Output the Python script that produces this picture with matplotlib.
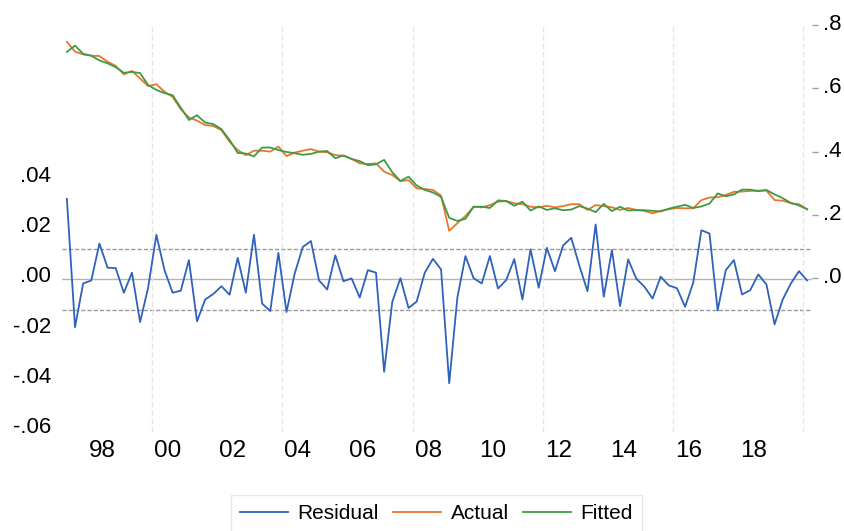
# -*- coding: utf-8 -*-
import numpy as np
import matplotlib
matplotlib.use("Agg")
import matplotlib.pyplot as plt
import matplotlib.transforms as mtrans

plt.rcParams["font.family"] = ["Liberation Sans", "DejaVu Sans"]

# data (quarterly, 1997Q1 - 2019Q4) --------------------------------------------
residual = [
    0.0321, -0.0190, -0.0016, -0.0004, 0.0143, 0.0047, 0.0045, -0.0053, 0.0027, -0.0170,
    -0.0031, 0.0178, 0.0037, -0.0053, -0.0045, 0.0077, -0.0167, -0.0080, -0.0058, -0.0027,
    -0.0061, 0.0086, -0.0053, 0.0178, -0.0096, -0.0126, 0.0106, -0.0130, 0.0023, 0.0129,
    0.0153, -0.0004, -0.0040, 0.0096, -0.0007, 0.0004, -0.0072, 0.0037, 0.0027, -0.0368,
    -0.0090, 0.0005, -0.0114, -0.0088, 0.0027, 0.0082, 0.0040, -0.0414, -0.0073, 0.0093,
    0.0005, -0.0016, 0.0093, -0.0036, -0.0003, 0.0081, -0.0080, 0.0120, -0.0033, 0.0126,
    0.0033, 0.0135, 0.0166, 0.0055, -0.0047, 0.0219, -0.0069, 0.0117, -0.0106, 0.0080,
    0.0003, -0.0029, -0.0076, 0.0011, -0.0024, -0.0035, -0.0109, -0.0013, 0.0196, 0.0183,
    -0.0124, 0.0037, 0.0077, -0.0060, -0.0043, 0.0020, -0.0020, -0.0179, -0.0080, -0.0016,
    0.0033, -0.0004,
]
actual = [
    0.747, 0.716, 0.707, 0.703, 0.702, 0.684, 0.671, 0.644, 0.655, 0.631,
    0.607, 0.613, 0.589, 0.573, 0.534, 0.508, 0.498, 0.484, 0.481, 0.468,
    0.431, 0.405, 0.389, 0.403, 0.403, 0.400, 0.416, 0.386, 0.397, 0.403,
    0.408, 0.400, 0.398, 0.389, 0.387, 0.377, 0.363, 0.361, 0.363, 0.337,
    0.326, 0.307, 0.310, 0.284, 0.282, 0.279, 0.261, 0.150, 0.174, 0.197,
    0.226, 0.224, 0.231, 0.242, 0.244, 0.237, 0.234, 0.226, 0.224, 0.229,
    0.224, 0.228, 0.234, 0.234, 0.216, 0.231, 0.228, 0.224, 0.216, 0.222,
    0.216, 0.213, 0.205, 0.213, 0.218, 0.222, 0.221, 0.221, 0.247, 0.255,
    0.256, 0.263, 0.273, 0.274, 0.276, 0.277, 0.277, 0.247, 0.245, 0.237,
    0.234, 0.218,
]
fitted = [
    0.715, 0.735, 0.709, 0.703, 0.688, 0.679, 0.667, 0.649, 0.652, 0.648,
    0.610, 0.595, 0.585, 0.578, 0.539, 0.500, 0.515, 0.492, 0.487, 0.471,
    0.437, 0.396, 0.394, 0.385, 0.413, 0.413, 0.405, 0.399, 0.395, 0.390,
    0.393, 0.400, 0.402, 0.379, 0.388, 0.377, 0.370, 0.357, 0.360, 0.374,
    0.335, 0.307, 0.321, 0.293, 0.279, 0.271, 0.257, 0.191, 0.181, 0.188,
    0.226, 0.226, 0.222, 0.246, 0.244, 0.229, 0.242, 0.214, 0.227, 0.216,
    0.221, 0.215, 0.217, 0.228, 0.220, 0.209, 0.235, 0.212, 0.226, 0.214,
    0.215, 0.215, 0.213, 0.211, 0.220, 0.226, 0.232, 0.222, 0.227, 0.236,
    0.268, 0.259, 0.265, 0.280, 0.280, 0.275, 0.279, 0.265, 0.253, 0.238,
    0.230, 0.218,
]
resid_sd = 0.0121

year_labels = ["98", "00", "02", "04", "06", "08", "10", "12", "14", "16", "18"]
left_ticks = [-0.06, -0.04, -0.02, 0.00, 0.02, 0.04]
left_labels = ["-.06", "-.04", "-.02", ".00", ".02", ".04"]
right_ticks = [0.0, 0.2, 0.4, 0.6, 0.8]
right_labels = [".0", ".2", ".4", ".6", ".8"]
# -----------------------------------------------------------------------------

BLUE = "#2f62b8"
ORANGE = "#e8762d"
GREEN = "#3f9a45"
LW = 1.3

x = np.arange(len(residual))

fig = plt.figure(figsize=(8.45, 5.31), dpi=100)
ax = fig.add_axes([62 / 845, 1 - 432 / 531, 750 / 845, 407 / 531])
ax2 = ax.twinx()

# left axis: residual
ax.axhline(0, color="#b4b4b4", lw=1.0, zorder=1)
ax.axhline(resid_sd, color="#9a9a9a", lw=1.0, ls=(0, (3, 1.5)), zorder=1)
ax.axhline(-resid_sd, color="#9a9a9a", lw=1.0, ls=(0, (3, 1.5)), zorder=1)
l_res, = ax.plot(x, residual, color=BLUE, lw=LW, zorder=3)

# right axis: actual / fitted
l_act, = ax2.plot(x, actual, color=ORANGE, lw=LW, zorder=3)
l_fit, = ax2.plot(x, fitted, color=GREEN, lw=LW, zorder=3)

ax.set_xlim(-0.6, 91.6)
ax.set_ylim(-0.0608, 0.1014)
ax2.set_ylim(-0.4855, 0.8)

# x axis ticks and vertical grid
ax.set_xticks([4.4 + 8 * k for k in range(len(year_labels))])
ax.set_xticklabels(year_labels, fontsize=17.5)
ax.set_xticks([10.5 + 16 * k for k in range(6)], minor=True)
ax.grid(True, which="minor", axis="x", color="#e6e6e6", lw=1.0, ls=(0, (4, 2)))
ax.tick_params(axis="x", which="both", length=0, pad=6)

ax.set_yticks(left_ticks)
ax.set_yticklabels(left_labels, fontsize=16)
ax.tick_params(axis="y", length=0, pad=8)

ax2.set_yticks(right_ticks)
ax2.set_yticklabels(right_labels, fontsize=16)
ax2.tick_params(axis="y", length=4, width=1, color="#a0a0a0", pad=4)

for a in (ax, ax2):
    for s in a.spines.values():
        s.set_visible(False)

# EViews puts the value labels a little above the tick position
up5 = mtrans.ScaledTranslation(0, 5 / 100, fig.dpi_scale_trans)
up3 = mtrans.ScaledTranslation(0, 3 / 100, fig.dpi_scale_trans)
for t in ax.get_yticklabels():
    t.set_transform(t.get_transform() + up5)
for t in ax2.get_yticklabels():
    t.set_transform(t.get_transform() + up3)

leg = fig.legend([l_res, l_act, l_fit], ["Residual", "Actual", "Fitted"],
                 loc="upper center", bbox_to_anchor=(436.5 / 845, 1 - 495 / 531),
                 ncol=3, fontsize=15, frameon=True, fancybox=False,
                 handlelength=2.3, handletextpad=0.45, columnspacing=0.7,
                 borderpad=0.45, borderaxespad=0)
leg.get_frame().set_edgecolor("#e0e0e0")
leg.get_frame().set_linewidth(1.0)

fig.savefig("out.png", dpi=100)
